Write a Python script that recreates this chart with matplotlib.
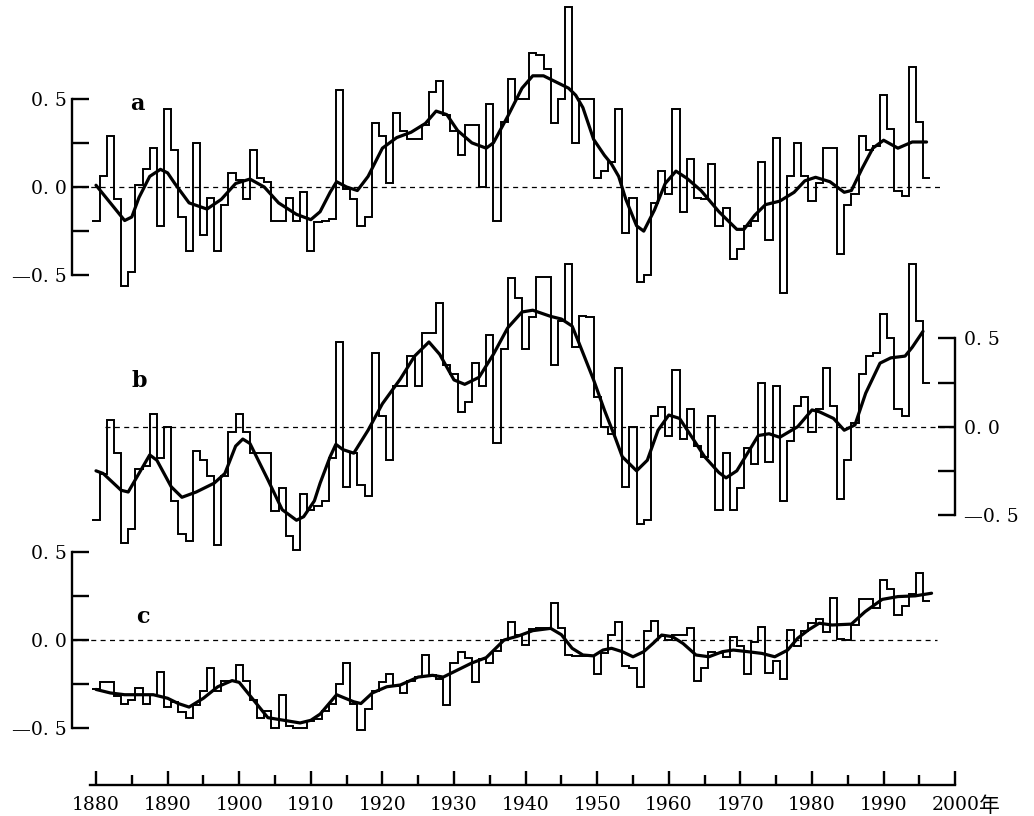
import numpy as np
import matplotlib
matplotlib.use("Agg")
from matplotlib import pyplot as plt

plt.rcParams['font.family'] = ['DejaVu Serif', 'Noto Sans CJK SC']

years = np.arange(1880, 1997)

# annual anomalies, panel a
vals_a = [-0.19, 0.06, 0.29, -0.07, -0.56, -0.48, 0.01, 0.10, 0.22, -0.22,
          0.44, 0.21, -0.17, -0.36, 0.25, -0.27, -0.06, -0.36, -0.10, 0.08,
          0.04, -0.07, 0.21, 0.05, 0.03, -0.19, -0.19, -0.06, -0.19, -0.03,
          -0.36, -0.20, -0.19, -0.18, 0.55, -0.01, -0.07, -0.22, -0.17, 0.36,
          0.29, 0.02, 0.42, 0.32, 0.27, 0.27, 0.35, 0.54, 0.60, 0.41,
          0.32, 0.18, 0.35, 0.35, 0.00, 0.47, -0.19, 0.37, 0.61, 0.50,
          0.50, 0.76, 0.75, 0.67, 0.36, 0.50, 1.02, 0.25, 0.50, 0.50,
          0.05, 0.09, 0.14, 0.44, -0.26, -0.06, -0.54, -0.50, -0.09, 0.09,
          -0.04, 0.44, -0.14, 0.16, -0.06, -0.07, 0.13, -0.22, -0.12, -0.41,
          -0.35, -0.22, -0.19, 0.14, -0.30, 0.28, -0.60, 0.06, 0.25, 0.06,
          -0.08, 0.02, 0.22, 0.22, -0.38, -0.10, -0.04, 0.29, 0.21, 0.23,
          0.52, 0.33, -0.02, -0.05, 0.68, 0.37, 0.05]

# panel b
vals_b = [-0.53, -0.27, 0.04, -0.15, -0.66, -0.58, -0.24, -0.22, 0.07, -0.18,
          0.00, -0.42, -0.61, -0.65, -0.14, -0.19, -0.28, -0.67, -0.28, -0.03,
          0.07, -0.03, -0.15, -0.15, -0.15, -0.48, -0.35, -0.62, -0.70, -0.38,
          -0.47, -0.45, -0.42, -0.18, 0.48, -0.34, -0.15, -0.33, -0.39, 0.42,
          0.06, -0.19, 0.23, 0.23, 0.40, 0.23, 0.53, 0.53, 0.70, 0.35,
          0.30, 0.085, 0.14, 0.36, 0.23, 0.52, -0.09, 0.44, 0.84, 0.73,
          0.44, 0.62, 0.85, 0.85, 0.35, 0.60, 0.92, 0.45, 0.63, 0.62,
          0.17, 0.00, -0.04, 0.33, -0.34, 0.00, -0.55, -0.53, 0.06, 0.11,
          -0.05, 0.32, -0.07, 0.10, -0.11, -0.17, 0.06, -0.47, -0.15, -0.47,
          -0.35, -0.12, -0.21, 0.25, -0.20, 0.23, -0.42, -0.08, 0.12, 0.17,
          -0.03, 0.10, 0.33, 0.12, -0.41, -0.19, 0.02, 0.30, 0.40, 0.42,
          0.64, 0.50, 0.10, 0.06, 0.92, 0.60, 0.25]

# panel c
vals_c = [-0.275, -0.24, -0.24, -0.32, -0.36, -0.34, -0.27, -0.36, -0.31, -0.18,
          -0.38, -0.35, -0.41, -0.44, -0.37, -0.29, -0.16, -0.29, -0.23, -0.23,
          -0.14, -0.23, -0.34, -0.44, -0.40, -0.50, -0.31, -0.49, -0.50, -0.50,
          -0.46, -0.45, -0.40, -0.36, -0.25, -0.13, -0.36, -0.51, -0.39, -0.29,
          -0.24, -0.19, -0.26, -0.30, -0.23, -0.21, -0.085, -0.20, -0.22, -0.37,
          -0.13, -0.066, -0.10, -0.24, -0.11, -0.13, -0.06, 0.00, 0.10, 0.03,
          -0.03, 0.06, 0.066, 0.066, 0.21, 0.07, -0.085, -0.09, -0.09, -0.09,
          -0.19, -0.076, 0.03, 0.10, -0.15, -0.16, -0.265, 0.05, 0.11, 0.02,
          0.00, 0.03, 0.03, 0.066, -0.23, -0.16, -0.066, -0.076, -0.095, 0.015,
          -0.034, -0.19, -0.01, 0.076, -0.185, -0.12, -0.22, 0.057, -0.034, 0.05,
          0.095, 0.12, 0.047, 0.24, 0.004, 0.0, 0.085, 0.23, 0.23, 0.18,
          0.34, 0.29, 0.14, 0.19, 0.26, 0.38, 0.22]

# smoothed curves
sm_a_x = [1880, 1882, 1884, 1885, 1886, 1887.5, 1889, 1890, 1891, 1893, 1895.5, 1897.5,
          1899.5, 1901.5, 1903.5, 1905.5, 1908, 1910, 1911.3, 1912.7, 1913.6, 1915,
          1916.5, 1918, 1920, 1922, 1924, 1926, 1927.5, 1929, 1930.5, 1932.5, 1934.5,
          1935.5, 1937.5, 1939.5, 1941, 1942.5, 1944, 1946, 1947, 1948, 1949.5, 1951,
          1952, 1953, 1954, 1955.5, 1956.5, 1958, 1959.5, 1961, 1962.5, 1964.5, 1967,
          1969.5, 1970.5, 1972, 1973.5, 1975.5, 1977.5, 1979, 1980.5, 1982.5, 1984.5,
          1985.5, 1987, 1988.5, 1990, 1992, 1994, 1996]
sm_a_y = [0.01, -0.09, -0.19, -0.17, -0.06, 0.06, 0.10, 0.08, 0.02, -0.09, -0.125, -0.07,
          0.02, 0.045, 0.0, -0.09, -0.155, -0.185, -0.14, -0.03, 0.03, 0.0,
          -0.02, 0.06, 0.22, 0.28, 0.31, 0.36, 0.43, 0.41, 0.32, 0.25, 0.22,
          0.25, 0.40, 0.56, 0.63, 0.63, 0.60, 0.56, 0.52, 0.45, 0.27, 0.18,
          0.13, 0.06, -0.07, -0.22, -0.25, -0.13, 0.02, 0.09, 0.05, -0.02, -0.14,
          -0.24, -0.24, -0.16, -0.10, -0.08, -0.03, 0.035, 0.055, 0.03, -0.03,
          -0.02, 0.105, 0.22, 0.265, 0.22, 0.255, 0.255]

sm_b_x = [1880, 1881, 1883.5, 1884.5, 1885.5, 1887.5, 1888.5, 1890.5, 1892, 1894, 1896.5,
          1898, 1899.5, 1900.5, 1901.5, 1904, 1906, 1908, 1909, 1910.5, 1911.3, 1912.7,
          1913.5, 1914.5, 1916, 1918, 1920, 1922.5, 1924.5, 1926.5, 1928, 1930, 1931.5,
          1933.5, 1935.5, 1937.5, 1939.5, 1941, 1943.5, 1945, 1946.5, 1947.5, 1949.5,
          1951, 1952.5, 1953.5, 1955.5, 1957, 1958.5, 1960, 1961.5, 1963.5, 1965, 1967,
          1968, 1969.5, 1971, 1972.5, 1974, 1975.5, 1978, 1980, 1981, 1983, 1984.5,
          1986, 1987.5, 1989.5, 1991, 1993, 1994, 1995.5]
sm_b_y = [-0.25, -0.265, -0.36, -0.37, -0.30, -0.16, -0.19, -0.34, -0.40, -0.37, -0.32,
          -0.265, -0.11, -0.07, -0.095, -0.30, -0.47, -0.53, -0.51, -0.42, -0.32, -0.17,
          -0.10, -0.13, -0.15, -0.02, 0.13, 0.27, 0.40, 0.48, 0.41, 0.265, 0.24,
          0.28, 0.41, 0.56, 0.65, 0.66, 0.625, 0.61, 0.57, 0.47, 0.265,
          0.095, -0.06, -0.17, -0.25, -0.19, -0.02, 0.066, 0.047, -0.076, -0.17, -0.26,
          -0.29, -0.25, -0.15, -0.05, -0.04, -0.06, 0.0, 0.095, 0.085, 0.047, -0.02,
          0.01, 0.19, 0.36, 0.39, 0.40, 0.45, 0.54]

sm_c_x = [1880, 1882, 1884, 1886, 1888, 1890, 1891.5, 1893, 1895, 1897, 1899, 1900,
          1902, 1904, 1907, 1908.5, 1910, 1911.3, 1913.6, 1916, 1917, 1918.6, 1920.6,
          1922.5, 1925, 1927, 1928.5, 1930.5, 1932.5, 1934.5, 1937, 1939, 1941, 1943.5,
          1945, 1946.5, 1948, 1949.5, 1950.8, 1952, 1953.5, 1955, 1956.5, 1957.8, 1959,
          1960.5, 1962, 1963.8, 1965.6, 1967.5, 1969, 1971, 1973, 1974.8, 1976.6, 1978,
          1979.5, 1981, 1982.8, 1985.5, 1987.4, 1989.8, 1992, 1994.4, 1996.7]
sm_c_y = [-0.28, -0.30, -0.31, -0.31, -0.31, -0.33, -0.36, -0.38, -0.33, -0.265, -0.23, -0.24,
          -0.34, -0.44, -0.46, -0.47, -0.455, -0.42, -0.31, -0.35, -0.36, -0.30, -0.265,
          -0.255, -0.21, -0.20, -0.21, -0.17, -0.13, -0.10, 0.0, 0.023, 0.053, 0.066,
          0.03, -0.047, -0.085, -0.09, -0.057, -0.047, -0.066, -0.095, -0.066, -0.019, 0.028,
          0.019, -0.02, -0.085, -0.095, -0.066, -0.057, -0.066, -0.076, -0.095, -0.057, 0.01,
          0.057, 0.095, 0.085, 0.09, 0.16, 0.23, 0.246, 0.25, 0.265]

ytick_vals = [-0.5, 0.0, 0.5]
ytick_text = ['—0. 5', '0. 0', '0. 5']
xtick_years = list(range(1880, 2001, 10))

W, H = 1034, 816
fig = plt.figure(figsize=(W / 100, H / 100), dpi=100)

# x mapping: year Y sits at pixel 96 + 7.16*(Y-1880)
PX0, PX1 = 60, 980
xlim = (1880 + (PX0 - 96) / 7.16, 1880 + (PX1 - 96) / 7.16)


def panel(top, bottom, zero_px, scale):
    ax = fig.add_axes([PX0 / W, 1 - bottom / H, (PX1 - PX0) / W, (bottom - top) / H])
    ax.set_xlim(*xlim)
    ax.set_ylim((zero_px - bottom) / scale, (zero_px - top) / scale)
    ax.patch.set_visible(False)
    for s in ax.spines.values():
        s.set_visible(False)
    ax.set_xticks([])
    return ax


edges = np.append(years - 0.5, years[-1] + 0.5)
lw_step, lw_smooth = 1.4, 2.3

for key, vals, sx, sy, top, bot, zp, side, letter, lpos, dash_rng in [
        ('a', vals_a, sm_a_x, sm_a_y, 0, 300, 187, 'left', 'a', (1885.8, 0.47), (1876.65, 1998.1)),
        ('b', vals_b, sm_b_x, sm_b_y, 250, 560, 426.7, 'right', 'b', (1886.1, 0.26), (1881.3, 2000)),
        ('c', vals_c, sm_c_x, sm_c_y, 540, 760, 640, 'left', 'c', (1886.6, 0.13), (1876.65, 1997.5))]:
    ax = panel(top, bot, zp, 176.5)
    ax.stairs(vals, edges, baseline=None, color='black', lw=lw_step)
    ax.plot(sx, sy, color='black', lw=lw_smooth, solid_capstyle='round',
            solid_joinstyle='round')
    ax.hlines(0, dash_rng[0], dash_rng[1], colors='black', lw=0.9,
              linestyles=(0, (4, 3.5)))
    sp = ax.spines[side]
    sp.set_visible(True)
    sp.set_linewidth(1.7)
    sp.set_bounds(-0.5, 0.5)
    if side == 'left':
        sp.set_position(('data', 1876.65))
    else:
        sp.set_position(('data', 2000))
        ax.yaxis.tick_right()
    ax.set_yticks(ytick_vals, labels=ytick_text)
    ax.set_yticks([-0.25, 0.25], minor=True)
    ax.tick_params(axis='y', which='both', direction='in', length=12, width=1.7,
                   labelsize=13.5, pad=4 if side == 'left' else 6)
    ax.text(lpos[0], lpos[1], letter, fontsize=16, fontweight='bold',
            ha='center', va='center')

# bottom time axis
axb = fig.add_axes([PX0 / W, 1 - 785 / H, (PX1 - PX0) / W, 20 / H])
axb.set_xlim(*xlim)
axb.patch.set_visible(False)
for s in axb.spines.values():
    s.set_visible(False)
axb.spines['bottom'].set_visible(True)
axb.spines['bottom'].set_linewidth(1.7)
axb.spines['bottom'].set_bounds(1879.2, 2000)
axb.set_yticks([])
axb.set_xticks(xtick_years, labels=[str(y) for y in xtick_years])
axb.set_xticks(range(1885, 2000, 10), minor=True)
axb.tick_params(axis='x', which='major', direction='in', length=10, width=1.7,
                labelsize=13.5, pad=8)
axb.tick_params(axis='x', which='minor', direction='in', length=7, width=1.7)
axb.annotate('年', xy=(2000, 0), xycoords=('data', 'axes fraction'),
             xytext=(17, -8), textcoords='offset points', fontsize=15,
             ha='left', va='top')

fig.savefig('out.png', dpi=100)
